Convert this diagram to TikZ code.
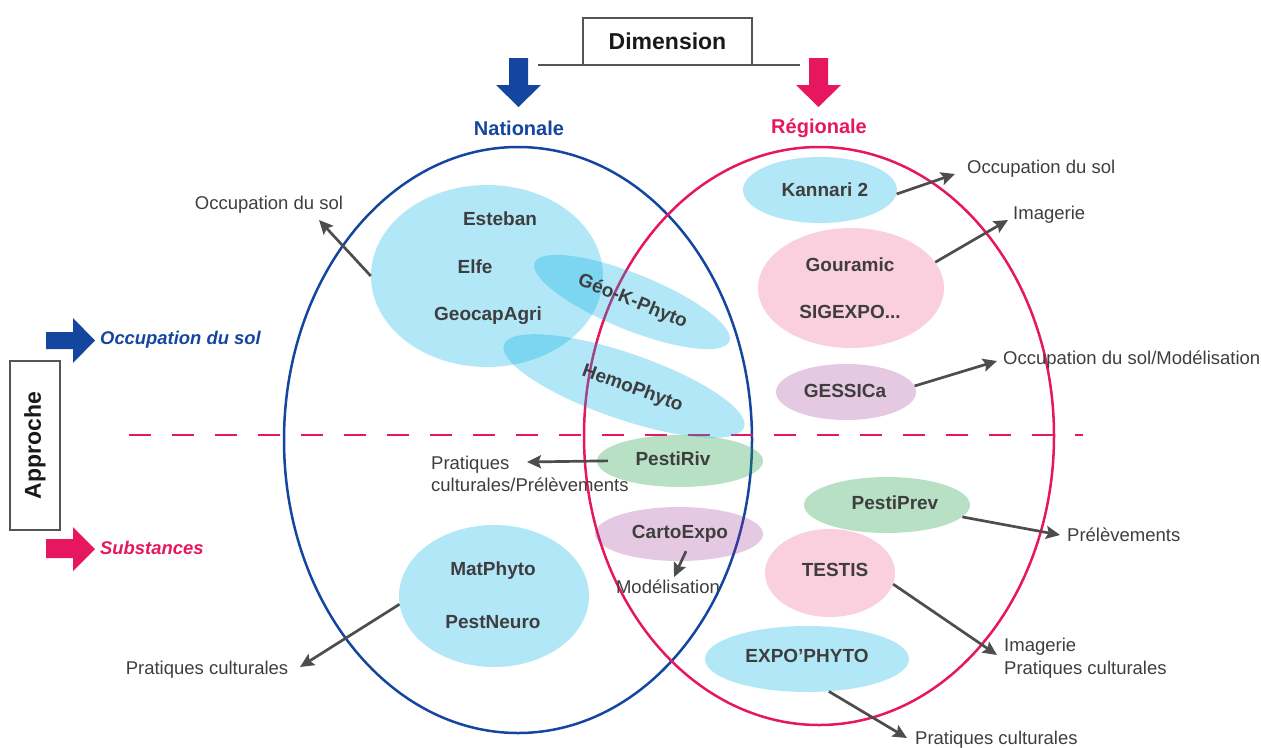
\documentclass[tikz,border=0pt]{standalone}
\usepackage{fontspec}
\setmainfont{Liberation Sans}
\usetikzlibrary{shapes.geometric,arrows.meta,calc}
\definecolor{natblue}{RGB}{20,70,160}
\definecolor{regpink}{RGB}{230,22,95}
\definecolor{txtgray}{RGB}{62,62,62}
\definecolor{arrgray}{RGB}{77,77,77}
\definecolor{boxgray}{RGB}{85,85,85}
\definecolor{fblue}{RGB}{0,176,230}
\definecolor{fpink}{RGB}{232,20,95}
\definecolor{fpurple}{RGB}{150,40,140}
\definecolor{fgreen}{RGB}{40,160,80}
\begin{document}
\begin{tikzpicture}[x=1pt,y=-1pt,
  blob/.style={ellipse, inner sep=0pt, draw=none},
  bluefill/.style={blob, fill=fblue, fill opacity=0.3},
  pinkfill/.style={blob, fill=fpink, fill opacity=0.2},
  purplefill/.style={blob, fill=fpurple, fill opacity=0.25},
  greenfill/.style={blob, fill=fgreen, fill opacity=0.33},
  ptxt/.style={font=\fontsize{19}{22}\selectfont\bfseries, text=txtgray, inner sep=0pt, text height=0.716em, text depth=0pt},
  lbl/.style={font=\fontsize{18.5}{22.5}\selectfont, text=txtgray, inner sep=0pt, align=left},
  arr/.style={draw=arrgray, line width=2.7pt, -{Stealth[length=14pt,width=13pt,inset=2.5pt]}},
  outl/.style={ellipse, inner sep=0pt, line width=2.5pt},
  hdr/.style={font=\fontsize{20}{24}\selectfont\bfseries, inner sep=0pt},
  apptxt/.style={font=\fontsize{18.4}{22}\selectfont\bfseries\itshape, inner sep=0pt, anchor=west},
]
\useasboundingbox (0,0) rectangle (1261,747);

% Dimension header
\coordinate (dimL) at (538,65);
\coordinate (dimR) at (800,65);
\draw[boxgray, line width=2pt] (dimL) -- (dimR);
\node[draw=boxgray, fill=white, line width=2pt, minimum width=169pt, minimum height=47pt, inner sep=0pt,
      font=\fontsize{23}{26}\selectfont\bfseries, text={rgb,255:red,25;green,25;blue,25}] (dim) at (667.5,41) {Dimension};
\fill[natblue] (509,58) -- (528,58) -- (528,85) -- (541,85) -- (518.5,107) -- (496,85) -- (509,85) -- cycle;
\fill[regpink] (809,58) -- (828,58) -- (828,85) -- (841,85) -- (818.5,107) -- (796,85) -- (809,85) -- cycle;
\node[hdr, text=natblue] (natT) at (519,128) {Nationale};
\node[hdr, text=regpink] (regT) at (819,128) {Régionale};

% Approche
\node[draw=boxgray, line width=2pt, rotate=90, minimum width=169pt, minimum height=50pt, inner sep=0pt,
      font=\fontsize{23}{26}\selectfont\bfseries, text={rgb,255:red,25;green,25;blue,25}] (app) at (35,445.5) {Approche};
\fill[natblue] (46,332) -- (73,332) -- (73,318) -- (95,340.5) -- (73,363) -- (73,349) -- (46,349) -- cycle;
\node[apptxt, text=natblue] (occApp) at (100,340) {Occupation du sol};
\fill[regpink] (46,539) -- (73,539) -- (73,527) -- (95,549) -- (73,571) -- (73,558) -- (46,558) -- cycle;
\node[apptxt, text=regpink] (subApp) at (100,548) {Substances};

% outlines
\node[outl, draw=natblue, minimum width=468pt, minimum height=586pt] (nat) at (518,440) {};
\node[outl, draw=regpink, minimum width=470pt, minimum height=578pt] (reg) at (819,436) {};
\coordinate (dashL) at (129,435);
\coordinate (dashR) at (1083,435);
\draw[regpink, line width=2.8pt, dash pattern=on 22pt off 21pt] (dashL) -- (dashR);

% filled ellipses
\node[bluefill, minimum width=232pt, minimum height=182pt] (est) at (487,276) {};
\node[bluefill, minimum width=210pt, minimum height=56pt, rotate=-22] (geo) at (632,302) {};
\node[bluefill, minimum width=254pt, minimum height=66pt, rotate=-19] (hemo) at (624,386) {};
\node[greenfill, minimum width=166pt, minimum height=52pt] (riv) at (680,461) {};
\node[purplefill, minimum width=168pt, minimum height=54pt] (carto) at (679,534) {};
\node[bluefill, minimum width=190pt, minimum height=142pt] (mat) at (494,596) {};
\node[bluefill, minimum width=154pt, minimum height=66pt] (kan) at (820,190) {};
\node[pinkfill, minimum width=186pt, minimum height=120pt] (gou) at (851,288) {};
\node[purplefill, minimum width=140pt, minimum height=56pt] (ges) at (846,392) {};
\node[greenfill, minimum width=166pt, minimum height=56pt] (prev) at (887,505) {};
\node[pinkfill, minimum width=130pt, minimum height=88pt] (tes) at (830,573) {};
\node[bluefill, minimum width=204pt, minimum height=66pt] (expo) at (807,659) {};

% texts in ellipses
\node[ptxt] (tEst) at (500,222) {Esteban};
\node[ptxt] (tElf) at (475,270) {Elfe};
\node[ptxt] (tGeoc) at (488,317) {GeocapAgri};
\node[ptxt, rotate=-22] (tGeo) at (632,303) {Géo-K-Phyto};
\node[ptxt, rotate=-20] (tHemo) at (632,390) {HemoPhyto};
\node[ptxt] (tRiv) at (673,462) {PestiRiv};
\node[ptxt] (tCarto) at (680,535) {CartoExpo};
\node[ptxt] (tMat) at (493,572) {MatPhyto};
\node[ptxt] (tNeuro) at (493,625) {PestNeuro};
\node[ptxt] (tKan) at (825,193) {Kannari 2};
\node[ptxt] (tGou) at (850,268) {Gouramic};
\node[ptxt] (tSig) at (850,315) {SIGEXPO...};
\node[ptxt] (tGes) at (845,394) {GESSICa};
\node[ptxt] (tPrev) at (895,506) {PestiPrev};
\node[ptxt] (tTes) at (835,573) {TESTIS};
\node[ptxt] (tExpo) at (807,659) {EXPO’PHYTO};

% labels
\node[lbl] (occL) at (269,205) {Occupation du sol};
\node[lbl] (matL) at (207,670) {Pratiques culturales};
\node[lbl, anchor=west] (rivL) at (431,474) {Pratiques\\culturales/Prélèvements};
\node[lbl] (cartoL) at (668,587) {Modélisation};
\node[lbl, anchor=west] (kanL) at (967,169) {Occupation du sol};
\node[lbl, anchor=west] (gouL) at (1013,215) {Imagerie};
\node[lbl, anchor=west] (gesL) at (1003,360) {Occupation du sol/Modélisation};
\node[lbl, anchor=west] (prevL) at (1067,535) {Prélèvements};
\node[lbl, anchor=west] (tesL) at (1004,658) {Imagerie\\Pratiques culturales};
\node[lbl, anchor=west] (expoL) at (915,740) {Pratiques culturales};

% connectors
\coordinate (occE) at (319,220);
\coordinate (matE) at (300,667);
\coordinate (rivE) at (527,462);
\coordinate (cartoE) at (674,577);
\coordinate (kanE) at (955,174);
\coordinate (gouE) at (1008,220);
\coordinate (gesE) at (997,361);
\coordinate (prevE) at (1060,535);
\coordinate (tesE) at (997,655);
\coordinate (expoE) at (907,738);
\draw[arr] (est.west) -- (occE);
\draw[arr] (mat.185) -- (matE);
\draw[arr, shorten <=-11pt] (riv.west) -- (rivE);
\draw[arr] ($(carto.south)+(7,-10)$) -- (cartoE);
\draw[arr] (kan.-3) -- (kanE);
\draw[arr] (gou.17) -- (gouE);
\draw[arr] (ges.5) -- (gesE);
\draw[arr] (prev.-9) -- (prevE);
\draw[arr] (tes.-10) -- (tesE);
\draw[arr] (expo.-56) -- (expoE);
\end{tikzpicture}
\end{document}
